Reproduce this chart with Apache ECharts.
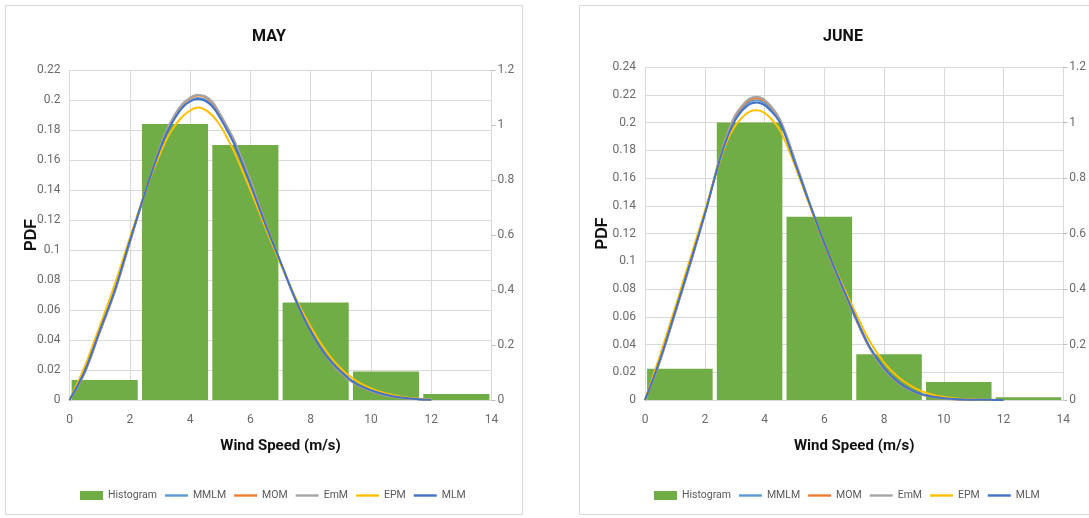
<!DOCTYPE html>
<html>
<head>
<meta charset="utf-8">
<script src="https://cdn.jsdelivr.net/npm/echarts@6/dist/echarts.min.js"></script>
<style>
html,body{margin:0;padding:0;background:#fff;}
#c{width:1089px;height:518px;}
</style>
</head>
<body>
<div id="c"></div>
<script>
// Histogram bins (6 bins spanning 0-14 m/s)
const binLabels = ['0-2.33','2.33-4.67','4.67-7','7-9.33','9.33-11.67','11.67-14'];
const histMay  = [0.0133, 0.184, 0.170, 0.065, 0.019, 0.004];
const histJune = [0.0226, 0.200, 0.132, 0.033, 0.013, 0.0019];

// Wind speed points for the fitted curves
const windX = [0,0.5,1,1.5,2,2.5,2.75,3,3.25,3.5,3.75,4,4.25,4.5,4.75,5,5.25,5.5,6,6.5,7,7.5,8,8.5,9,9.5,10,10.5,11,11.5,12];

// MAY fitted PDFs
const mayMMLM = [0,0.0188,0.0458,0.0728,0.1058,0.138,0.153,0.1672,0.1795,0.1885,0.1955,0.1995,0.2013,0.2003,0.1963,0.1885,0.1795,0.1695,0.1445,0.1172,0.0918,0.0668,0.0458,0.0298,0.0188,0.0108,0.0063,0.0034,0.0016,0.0007,0.0002];
const mayMOM  = [0,0.018,0.045,0.072,0.105,0.138,0.1535,0.168,0.1805,0.19,0.197,0.201,0.203,0.202,0.198,0.19,0.181,0.171,0.146,0.118,0.092,0.067,0.046,0.03,0.018,0.0105,0.006,0.003,0.0015,0.0006,0.0002];
const mayEmM  = [0,0.018,0.045,0.072,0.105,0.138,0.1538,0.1685,0.181,0.1905,0.1975,0.2015,0.2035,0.2025,0.1985,0.1905,0.1815,0.1715,0.1465,0.118,0.092,0.0668,0.0458,0.0298,0.018,0.0105,0.006,0.003,0.0015,0.0006,0.0002];
const mayEPM  = [0,0.022,0.049,0.077,0.108,0.138,0.152,0.164,0.175,0.183,0.189,0.193,0.195,0.1935,0.1895,0.183,0.174,0.164,0.14,0.115,0.091,0.068,0.049,0.033,0.021,0.013,0.0078,0.0043,0.0022,0.001,0.0004];
const mayMLM  = [0,0.019,0.046,0.073,0.106,0.138,0.153,0.167,0.179,0.188,0.195,0.199,0.2007,0.1995,0.1955,0.188,0.179,0.169,0.144,0.117,0.092,0.067,0.046,0.03,0.019,0.011,0.0065,0.0035,0.0017,0.0007,0.0002];

// JUNE fitted PDFs
const junMMLM = [0,0.0285,0.0625,0.0975,0.134,0.1735,0.19,0.2025,0.21,0.2148,0.216,0.214,0.209,0.2015,0.1885,0.1728,0.1575,0.142,0.1125,0.0865,0.0615,0.0385,0.0225,0.0122,0.006,0.0028,0.0012,0.0005,0.0002,0.0001,0];
const junMOM  = [0,0.028,0.062,0.097,0.134,0.174,0.191,0.204,0.2115,0.2163,0.2175,0.2155,0.2103,0.2025,0.1892,0.1735,0.158,0.142,0.112,0.086,0.061,0.038,0.022,0.012,0.0058,0.0026,0.0011,0.0004,0.0001,0,0];
const junEmM  = [0,0.028,0.062,0.097,0.134,0.174,0.1915,0.2045,0.2122,0.2172,0.2185,0.2163,0.2109,0.203,0.1898,0.174,0.1585,0.1425,0.1125,0.086,0.061,0.038,0.022,0.012,0.0058,0.0026,0.0011,0.0004,0.0001,0,0];
const junEPM  = [0,0.032,0.066,0.101,0.136,0.172,0.187,0.197,0.2035,0.2078,0.2088,0.207,0.202,0.195,0.1835,0.17,0.1555,0.141,0.113,0.088,0.065,0.043,0.027,0.016,0.009,0.0045,0.0021,0.0009,0.0004,0.0001,0];
const junMLM  = [0,0.029,0.063,0.098,0.134,0.173,0.189,0.201,0.2085,0.2133,0.2145,0.2125,0.2075,0.2005,0.1875,0.172,0.157,0.142,0.113,0.087,0.062,0.039,0.023,0.0125,0.0062,0.0029,0.0013,0.0005,0.0002,0.0001,0];

const seriesNames = ['Histogram','MMLM','MOM','EmM','EPM','MLM'];
const colors = {Histogram:'#70AD47', MMLM:'#5B9BD5', MOM:'#ED7D31', EmM:'#A5A5A5', EPM:'#FFC000', MLM:'#4472C4'};

const FONT = "Roboto,'Liberation Sans',sans-serif";
const GRID_C = '#d9d9d9';
const LABEL_C = '#6b6b6b';

function pairs(vals){ return windX.map((x,i)=>[x, vals[i]]); }

const panels = [
  {title:'MAY', yMax:0.22, hist:histMay, curves:{MMLM:mayMMLM, MOM:mayMOM, EmM:mayEmM, EPM:mayEPM, MLM:mayMLM},
   grid:{left:69.5, top:70, width:422, height:330}, cx:264, legendLeft:75, pdfGap:30},
  {title:'JUNE', yMax:0.24, hist:histJune, curves:{MMLM:junMMLM, MOM:junMOM, EmM:junEmM, EPM:junEPM, MLM:junMLM},
   grid:{left:645, top:67, width:421, height:333}, cx:838, legendLeft:649, pdfGap:34}
];

const option = {
  animation:false,
  backgroundColor:'#fff',
  title:[], legend:[], grid:[], xAxis:[], yAxis:[], series:[],
  graphic:[
    {type:'rect', shape:{x:5.5,y:5.5,width:517,height:509}, style:{fill:'none', stroke:GRID_C, lineWidth:1}, silent:true},
    {type:'rect', shape:{x:579.5,y:5.5,width:520,height:509}, style:{fill:'none', stroke:GRID_C, lineWidth:1}, silent:true}
  ]
};

panels.forEach((p, gi) => {
  option.title.push({text:p.title, left:p.cx, top:24, textAlign:'center',
    textStyle:{fontFamily:FONT, fontWeight:'bold', fontSize:16, color:'#111'}});
  option.legend.push({
    left:p.legendLeft, top:485, itemWidth:23, itemHeight:9, itemGap:8,
    textStyle:{fontFamily:FONT, fontSize:10.5, color:'#595959'},
    data:seriesNames.map(n=>({name:n, icon: n==='Histogram' ? 'rect' : 'path://M0,0 L23,0 L23,2.4 L0,2.4 Z', itemStyle:{color:colors[n]}}))
  });
  option.grid.push(p.grid);
  option.xAxis.push({type:'value', gridIndex:gi, min:0, max:14, interval:2,
    name:'Wind Speed (m/s)', nameLocation:'middle', nameGap:39, nameMoveOverlap:false,
    nameTextStyle:{fontFamily:FONT, fontWeight:'bold', fontSize:15, color:'#111'},
    axisLine:{show:true, lineStyle:{color:GRID_C}}, axisTick:{show:false},
    axisLabel:{fontFamily:FONT, fontSize:12, color:LABEL_C, margin:14},
    splitLine:{show:true, lineStyle:{color:GRID_C, width:1}}});
  option.xAxis.push({type:'category', gridIndex:gi, data:binLabels, show:false, boundaryGap:true});
  option.yAxis.push({type:'value', gridIndex:gi, min:0, max:p.yMax, interval:0.02,
    name:'PDF', nameLocation:'middle', nameGap:p.pdfGap, nameRotate:90, nameMoveOverlap:false,
    nameTextStyle:{fontFamily:"'Liberation Sans',Arial,sans-serif", fontWeight:'bold', fontSize:16, color:'#111'},
    axisLine:{show:false}, axisTick:{show:false},
    axisLabel:{fontFamily:FONT, fontSize:12, color:LABEL_C, margin:9},
    splitLine:{show:true, lineStyle:{color:GRID_C, width:1}}});
  option.yAxis.push({type:'value', gridIndex:gi, min:0, max:1.2, interval:0.2, position:'right',
    axisLine:{show:true, lineStyle:{color:GRID_C}}, axisTick:{show:true, length:4, lineStyle:{color:'#bfbfbf'}},
    axisLabel:{fontFamily:FONT, fontSize:12, color:LABEL_C, margin:6},
    splitLine:{show:false}});
  const xv = gi*2, xc = gi*2+1, yl = gi*2;
  option.series.push({type:'bar', name:'Histogram', xAxisIndex:xc, yAxisIndex:yl, data:p.hist,
    barCategoryGap:'6%', itemStyle:{color:colors.Histogram}, z:1});
  ['MMLM','MOM','EmM','EPM','MLM'].forEach(n => {
    option.series.push({type:'line', name:n, xAxisIndex:xv, yAxisIndex:yl, data:pairs(p.curves[n]),
      smooth:0.35, symbol:'none', lineStyle:{color:colors[n], width:2}, itemStyle:{color:colors[n]}, z:2});
  });
});

const chart = echarts.init(document.getElementById('c'), null, {renderer:'canvas'});
chart.setOption(option);
</script>
</body>
</html>
